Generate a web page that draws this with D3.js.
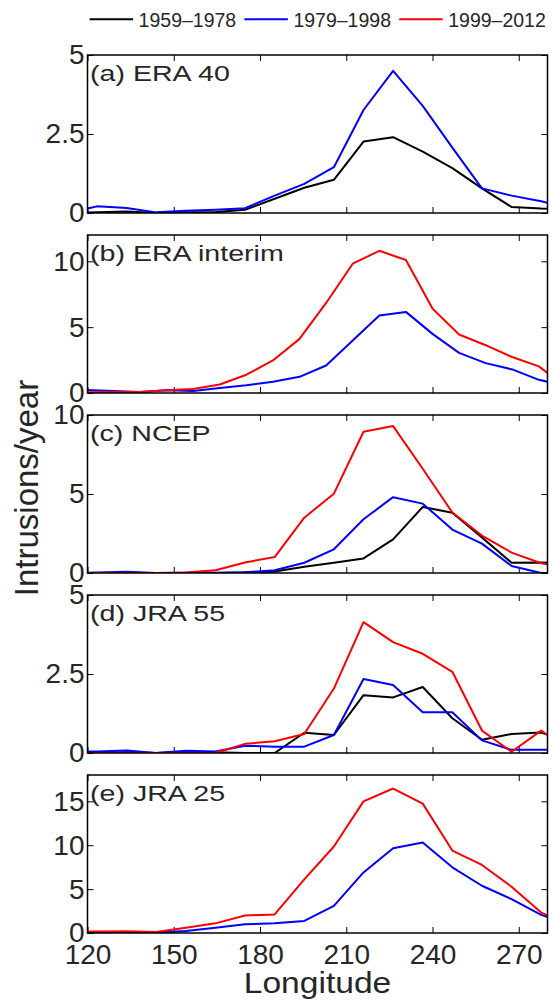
<!DOCTYPE html>
<html>
<head>
<meta charset="utf-8">
<script src="https://cdnjs.cloudflare.com/ajax/libs/d3/7.8.5/d3.min.js"></script>
<style>
  body { margin: 0; background: #fff; }
  svg { display: block; }
  text { font-family: "Liberation Sans", Arial, Helvetica, sans-serif; fill: #262626; }
</style>
</head>
<body>
<svg id="chart" width="552" height="1001"></svg>
<script>
// longitudes of the bins (ERA interim has its own grid)
const lonA = [113.0, 123.3, 133.6, 143.9, 154.2, 164.5, 174.8, 185.1, 195.4, 205.7, 216.0, 226.3, 236.6, 246.9, 257.2, 267.5, 277.8, 288.1];
const lonB = [119.75, 129.0, 138.25, 147.5, 156.75, 166.0, 175.25, 184.5, 193.75, 203.0, 212.25, 221.5, 230.75, 240.0, 249.25, 258.5, 267.75, 277.0, 286.25];

const periods = ["1959\u20131978", "1979\u20131998", "1999\u20132012"];
const periodColors = ["#000000", "#0000ff", "#ff0000"];

const xTicks = [120, 150, 180, 210, 240, 270];

// (a) ERA 40
const era40Black = [0, 0.02, 0.05, 0, 0.02, 0.03, 0.1, 0.45, 0.8, 1.05, 2.26, 2.40, 1.94, 1.42, 0.78, 0.19, 0.14, 0.12];
const era40Blue  = [0, 0.21, 0.16, 0.02, 0.07, 0.1, 0.15, 0.55, 0.92, 1.45, 3.26, 4.50, 3.39, 2.07, 0.78, 0.55, 0.37, 0.13];
// (b) ERA interim
const eraiBlue = [0.23, 0.15, 0.08, 0.2, 0.15, 0.38, 0.58, 0.86, 1.23, 2.09, 3.98, 5.88, 6.16, 4.49, 3.05, 2.27, 1.79, 1.0, 0.55];
const eraiRed  = [0.05, 0.07, 0.07, 0.2, 0.3, 0.65, 1.39, 2.47, 4.11, 6.84, 9.82, 10.8, 10.1, 6.41, 4.44, 3.63, 2.73, 2.02, 0.5];
// (c) NCEP
const ncepBlack = [0, 0, 0, 0, 0, 0, 0.03, 0.1, 0.4, 0.65, 0.92, 2.13, 4.18, 3.82, 2.25, 0.65, 0.67, 0.6];
const ncepBlue  = [0, 0.03, 0.08, 0, 0.02, 0.02, 0.05, 0.17, 0.65, 1.5, 3.4, 4.8, 4.39, 2.75, 1.86, 0.44, 0, 0];
const ncepRed   = [0, 0, 0, 0, 0.03, 0.17, 0.67, 1.01, 3.5, 5.02, 8.94, 9.3, 6.6, 3.83, 2.37, 1.29, 0.62, 0.3];
// (d) JRA 55
const jra55Black = [0, 0, 0.02, 0, 0.04, 0.02, 0, 0, 0.64, 0.57, 1.83, 1.76, 2.09, 1.1, 0.42, 0.6, 0.65, 0.3];
const jra55Blue  = [0.05, 0.05, 0.08, 0, 0.07, 0.05, 0.23, 0.2, 0.2, 0.57, 2.34, 2.15, 1.29, 1.29, 0.4, 0.1, 0.1, 0.1];
const jra55Red   = [0, 0, 0, 0, 0, 0, 0.29, 0.37, 0.6, 2.04, 4.14, 3.51, 3.14, 2.57, 0.71, 0.04, 0.71, 0.05];
// (e) JRA 25
const jra25Blue = [0.02, 0.05, 0.05, 0.05, 0.23, 0.6, 1.0, 1.1, 1.37, 3.1, 6.9, 9.66, 10.3, 7.48, 5.38, 3.86, 2.06, 0.9];
const jra25Red  = [0.12, 0.18, 0.2, 0.11, 0.6, 1.1, 2.0, 2.11, 6.1, 9.85, 15.0, 16.46, 14.74, 9.39, 7.75, 5.27, 2.33, 0.8];

const panels = [
  { label: "(a) ERA 40", lon: lonA, yMax: 5, yTicks: [0, 2.5, 5], lines: [[0, era40Black], [1, era40Blue]] },
  { label: "(b) ERA interim", lon: lonB, yMax: 12, yTicks: [0, 5, 10], lines: [[1, eraiBlue], [2, eraiRed]] },
  { label: "(c) NCEP", lon: lonA, yMax: 10, yTicks: [0, 5, 10], lines: [[0, ncepBlack], [1, ncepBlue], [2, ncepRed]] },
  { label: "(d) JRA 55", lon: lonA, yMax: 5, yTicks: [0, 2.5, 5], lines: [[0, jra55Black], [1, jra55Blue], [2, jra55Red]] },
  { label: "(e) JRA 25", lon: lonA, yMax: 18, yTicks: [0, 5, 10, 15], lines: [[1, jra25Blue], [2, jra25Red]] }
];

const svg = d3.select("#chart");
const left = 87.5, right = 547.5;
const firstTop = 55, step = 180, panelH = 158;

const x = d3.scaleLinear().domain([120, 280]).range([left, right]);

panels.forEach(function(p, i) {
  const top = firstTop + i * step;
  const y = d3.scaleLinear().domain([0, p.yMax]).range([top + panelH, top]);
  const isLast = i === panels.length - 1;

  svg.append("clipPath").attr("id", "clip" + i)
    .append("rect")
    .attr("x", left).attr("y", top)
    .attr("width", right - left).attr("height", panelH);

  // inward ticks on all four sides, like the matlab box
  const bottom = svg.append("g")
    .attr("transform", `translate(0,${top + panelH})`)
    .call(d3.axisBottom(x).tickValues(xTicks).tickSizeInner(-6).tickSizeOuter(0).tickPadding(11)
      .tickFormat(isLast ? d3.format("d") : ""));
  svg.append("g")
    .attr("transform", `translate(0,${top})`)
    .call(d3.axisTop(x).tickValues(xTicks).tickSizeInner(-6).tickSizeOuter(0).tickFormat(""));
  const leftAxis = svg.append("g")
    .attr("transform", `translate(${left},0)`)
    .call(d3.axisLeft(y).tickValues(p.yTicks).tickSizeInner(-6).tickSizeOuter(0).tickPadding(3)
      .tickFormat(d => String(d)));
  svg.append("g")
    .attr("transform", `translate(${right},0)`)
    .call(d3.axisRight(y).tickValues(p.yTicks).tickSizeInner(-6).tickSizeOuter(0).tickFormat(""));

  svg.selectAll(".domain").remove();
  svg.selectAll(".tick line").attr("stroke", "#000").attr("stroke-width", 1);
  svg.selectAll(".tick text").style("font-size", "28px").attr("fill", "#262626");

  const line = d3.line()
    .x((d, k) => x(p.lon[k]))
    .y(d => y(d));

  p.lines.forEach(function(l) {
    svg.append("path")
      .datum(l[1])
      .attr("clip-path", `url(#clip${i})`)
      .attr("fill", "none")
      .attr("stroke", periodColors[l[0]])
      .attr("stroke-width", 2)
      .attr("stroke-linejoin", "round")
      .attr("d", line);
  });

  svg.append("rect")
    .attr("x", left).attr("y", top)
    .attr("width", right - left).attr("height", panelH)
    .attr("fill", "none").attr("stroke", "#000").attr("stroke-width", 1.5);

  svg.append("text")
    .attr("transform", `translate(${left + 2.5},${top + 25.5}) scale(1.3,1)`)
    .style("font-size", "22px")
    .text(p.label);
});

// axis titles
svg.append("text")
  .attr("transform", `translate(${(left + right) / 2},993) scale(1.12,1)`)
  .attr("text-anchor", "middle")
  .style("font-size", "30px")
  .text("Longitude");

svg.append("text")
  .attr("transform", "translate(38,488) rotate(-90)")
  .attr("text-anchor", "middle")
  .style("font-size", "33px")
  .text("Intrusions/year");

// legend across the top
const legend = svg.append("g").attr("transform", "translate(89.6,0)");
periods.forEach(function(name, k) {
  const gx = k * 154.8;
  legend.append("line")
    .attr("x1", gx).attr("x2", gx + 43.5)
    .attr("y1", 19.3).attr("y2", 19.3)
    .attr("stroke", periodColors[k]).attr("stroke-width", 2);
  legend.append("text")
    .attr("x", gx + 49).attr("y", 27.3)
    .style("font-size", "19.5px")
    .text(name);
});
</script>
</body>
</html>
